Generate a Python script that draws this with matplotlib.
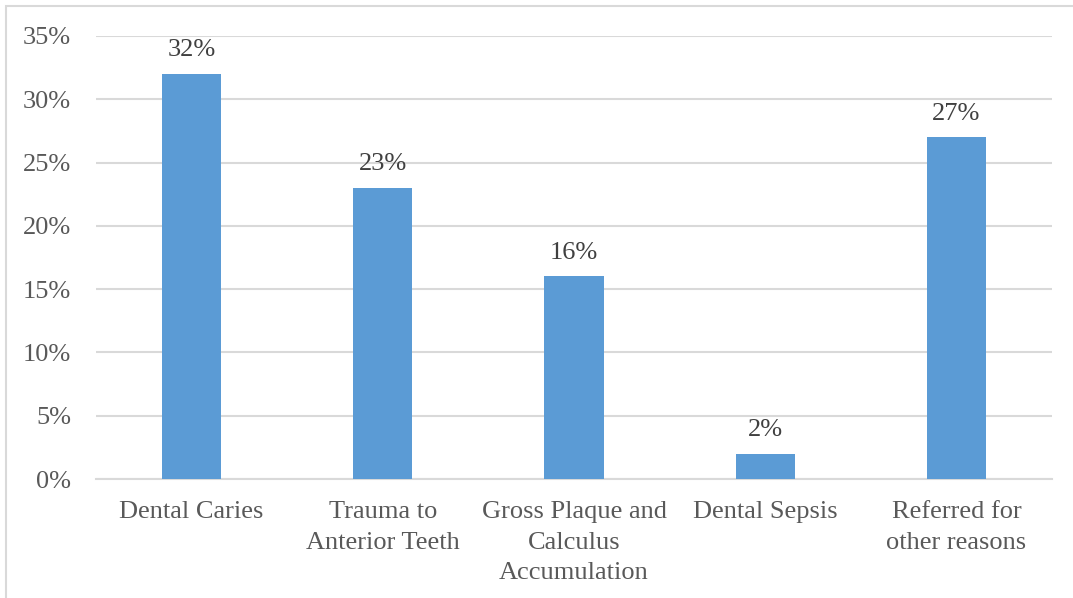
import matplotlib
matplotlib.use("Agg")
import matplotlib.pyplot as plt
from matplotlib.patches import Rectangle
import matplotlib.ticker as mticker

categories = ["Dental Caries", "Trauma to\nAnterior Teeth", "Gross Plaque and\nCalculus\nAccumulation",
              "Dental Sepsis", "Referred for\nother reasons"]
values = [32, 23, 16, 2, 27]
yticks = [0, 5, 10, 15, 20, 25, 30, 35]

plt.rcParams['font.family'] = ['Liberation Serif', 'DejaVu Serif']

fig = plt.figure(figsize=(10.73, 5.98), dpi=100)
ax = fig.add_axes([96 / 1073, 1 - 479 / 598, (1052 - 96) / 1073, (479 - 36) / 598])

# light border around the chart area (only left and top visible in reference)
fig.patches.append(Rectangle((6 / 1073, -0.05), 1.2, 1 - 6 / 598 + 0.05, transform=fig.transFigure,
                             fill=False, edgecolor='#d9d9d9', linewidth=1.5))

x = list(range(len(categories)))
ax.bar(x, values, width=0.31, color='#5b9bd5', zorder=3)
for xi, v in zip(x, values):
    ax.text(xi, v + 1.0, f"{v}%", ha='center', va='bottom', fontsize=19, color='#404040')

ax.set_xlim(-0.5, len(categories) - 0.5)
ax.set_ylim(0, 35)
ax.set_yticks(yticks)
ax.yaxis.set_major_formatter(mticker.FuncFormatter(lambda v, p: f"{int(v)}%"))
ax.set_xticks(x)
ax.set_xticklabels(categories, fontsize=19, color='#595959', linespacing=1.5)
ax.tick_params(axis='y', labelsize=19, labelcolor='#595959', length=0, pad=18)
ax.tick_params(axis='x', length=0, pad=16)
ax.grid(axis='y', color='#d9d9d9', linewidth=1.5, zorder=0)
for s in ['top', 'right', 'left']:
    ax.spines[s].set_visible(False)
ax.spines['bottom'].set_color('#d9d9d9')
ax.spines['bottom'].set_linewidth(1.5)

fig.savefig('out.png', dpi=100)
